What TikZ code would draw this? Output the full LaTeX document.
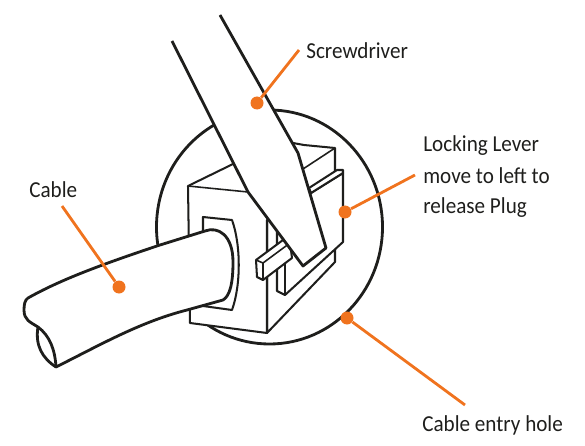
\documentclass[tikz,border=0pt]{standalone}
\usepackage{fontspec}
\setmainfont[FakeStretch=0.925]{Carlito}
\definecolor{lead}{HTML}{F0731E}
\definecolor{ink}{HTML}{1E1E1C}
\tikzset{
 outline/.style={draw=ink,line width=1.15pt,line join=round,fill=white},
 thinl/.style={draw=ink,line width=0.9pt,line join=round},
 heavy/.style={draw=ink,line width=1.6pt,line join=round,fill=white},
 lbl/.style={font=\fontsize{13}{17}\selectfont,text=ink,inner sep=0pt,align=left},
 dot/.style={circle,fill=lead,minimum size=7.4pt,inner sep=0pt},
 leader/.style={draw=lead,line width=1.6pt}
}
\begin{document}
\begin{tikzpicture}[x=0.02cm,y=-0.02cm]
\useasboundingbox (0,0) rectangle (585,446);
% entry hole
\draw[draw=ink,line width=1.6pt] (269.5,227) ellipse [x radius=113,y radius=117];
% back block
\path[outline] (293,143) -- (304,145) -- (335,148) -- (335,262) -- (267,333) -- (267,220) -- cycle;
\path[thinl] (335,148) -- (303,169);
% housing
\path[outline] (188,186) -- (233,164) -- (300,200) -- (267,220) -- (267,333) -- (190,323) -- cycle;
\path[thinl] (188,186) -- (248,192);
% locking lever
\path[outline] (311,193) -- (343,173) -- (343,242) -- (285,295) -- (277,291) -- (277,232) -- cycle;
\path[outline] (309,188) -- (337,170) -- (343,170) -- (343,173) -- (311,193) -- cycle;
\path[thinl] (285,295) -- (285,262);
% tab
\path[outline] (256,260) -- (283,240) -- (290,243) -- (292,258) -- (263,280) -- (257,277) -- cycle;
\path[thinl] (263,263) -- (290,243);
\path[thinl] (263,263) -- (263,280);
\path[thinl] (256,260) -- (263,263);
% cable recess
\path[outline] (203,217) -- (232,220) .. controls (241,245) and (241,285) .. (232,310) -- (203,306) -- cycle;
% screwdriver
\path[heavy] (172,41) -- (248,192) -- (303,266) -- (326,248) -- (298,153) -- (220,15);
% cable
\path[heavy] (28,298) .. controls (60,280) and (100,265) .. (160,245)
  -- (205,231) .. controls (218,226) and (233,235) .. (233,262)
  .. controls (233,283) and (230,296) .. (223,300)
  -- (187,310) .. controls (140,322) and (100,345) .. (56,367)
  .. controls (55,350) and (50,336) .. (38,327)
  .. controls (30,322) and (24,320) .. (24,310)
  .. controls (24,304) and (25,300) .. (28,298) -- cycle;
\path[heavy,fill=none] (38,327) .. controls (35,345) and (42,358) .. (56,367);
% labels and leaders
\node[lbl,anchor=base west] (tcable) at (29,197) {Cable};
\node[lbl,anchor=base west] (tscrew) at (306,59) {Screwdriver};
\node[lbl,anchor=base west] (tlever) at (423,152) {Locking Lever};
\node[lbl,anchor=base west] (tmove) at (423,183) {move to left to};
\node[lbl,anchor=base west] (trel) at (423,214) {release Plug};
\node[lbl,anchor=base west] (thole) at (422,431) {Cable entry hole};
\coordinate (lc) at (62,206);
\coordinate (ls) at (299,50);
\coordinate (ll) at (415,175);
\coordinate (lh) at (465,405);
\node[dot] (dc) at (119,287) {};
\node[dot] (ds) at (257,103) {};
\node[dot] (dl) at (345,212) {};
\node[dot] (dh) at (347,318) {};
\draw[leader] (lc) -- (dc);
\draw[leader] (ls) -- (ds);
\draw[leader] (ll) -- (dl);
\draw[leader] (lh) -- (dh);
\end{tikzpicture}
\end{document}
